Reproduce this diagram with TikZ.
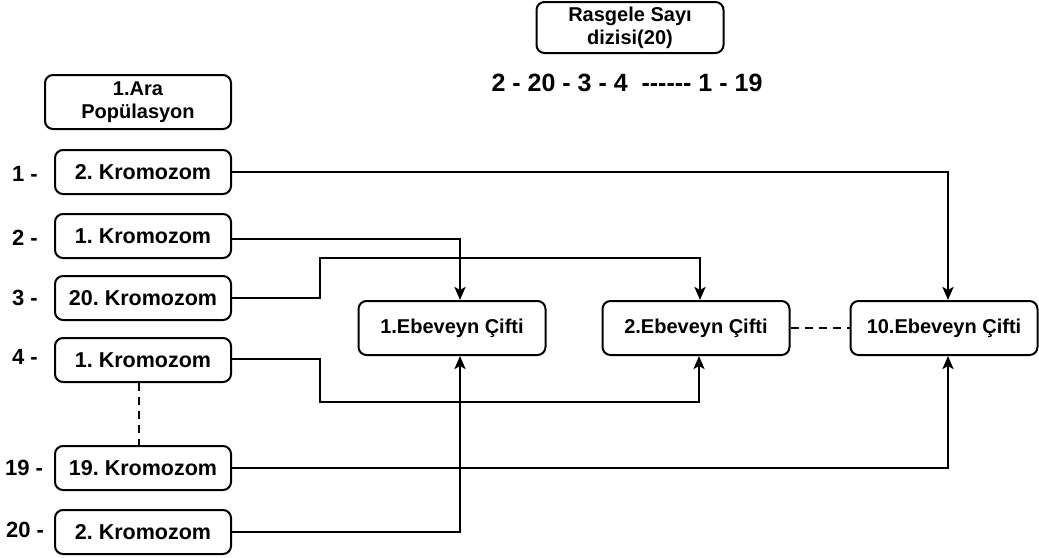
\documentclass[tikz,border=0pt]{standalone}
\usepackage{fontspec}
\setmainfont{Liberation Sans}
\usetikzlibrary{arrows.meta}
\frenchspacing
\tikzset{
  box/.style={draw, line width=2pt, rounded corners=8pt, align=center, inner sep=0pt,
    font=\fontsize{20}{23}\selectfont\bfseries},
  krom/.style={box, minimum width=176pt, minimum height=44pt, font=\fontsize{21.5}{25}\selectfont\bfseries},
  pair/.style={box, minimum width=187pt, minimum height=54pt},
  idx/.style={font=\fontsize{22}{26}\selectfont\bfseries},
  link/.style={line width=2.4pt, -{Stealth[length=13pt,width=11pt,inset=3pt]}},
  gap/.style={line width=2.4pt, dash pattern=on 8pt off 6pt},
}
\begin{document}
\begin{tikzpicture}[x=1pt,y=-1pt]
\useasboundingbox (0,0) rectangle (1039,557);

% header boxes
\node[box, minimum width=186pt, minimum height=54pt] (ara) at (138,102) {1.Ara\\Popülasyon};
\node[box, minimum width=187pt, minimum height=51pt] (rs) at (630,27.5) {Rasgele Sayı\\dizisi(20)};
\node[font=\fontsize{25}{30}\selectfont\bfseries] (seq) at (627,83) {2 - 20 - 3 - 4 \ -{}-{}-{}-{}-{}- 1 - 19};

% chromosomes of the intermediate population
\node[krom] (k1) at (143,172) {2. Kromozom};
\node[krom] (k2) at (143,236) {1. Kromozom};
\node[krom] (k3) at (143,298) {20. Kromozom};
\node[krom] (k4) at (143,360) {1. Kromozom};
\node[krom] (k19) at (143,468) {19. Kromozom};
\node[krom] (k20) at (143,532) {2. Kromozom};

% index labels
\node[idx] (i1) at (25,174) {1 -};
\node[idx] (i2) at (25,238) {2 -};
\node[idx] (i3) at (25,298) {3 -};
\node[idx] (i4) at (25,357) {4 -};
\node[idx] (i19) at (24,468) {19 -};
\node[idx] (i20) at (25,530) {20 -};

% parent pairs
\node[pair] (e1) at (452,328) {1.Ebeveyn Çifti};
\node[pair] (e2) at (696,328) {2.Ebeveyn Çifti};
\node[pair] (e10) at (944,328) {10.Ebeveyn Çifti};

% routing corners
\coordinate (j3) at (320,258);
\coordinate (j4) at (320,402);

% connections
\draw[link] (k1.east) -| ([xshift=4pt]e10.north);
\draw[link] ([yshift=-3pt]k2.east) -| ([xshift=8pt]e1.north);
\draw[link] (k3.east) -| (j3) -| ([xshift=4pt]e2.north);
\draw[link] ([yshift=1pt]k4.east) -| (j4) -| ([xshift=3pt]e2.south);
\draw[link] (k19.east) -| ([xshift=4pt]e10.south);
\draw[link] (k20.east) -| ([xshift=8pt]e1.south);

% omitted ranges
\draw[gap] ([xshift=-4pt]k4.south) -- ([xshift=-4pt]k19.north);
\draw[gap] (e2.east) -- (e10.west);
\end{tikzpicture}
\end{document}
